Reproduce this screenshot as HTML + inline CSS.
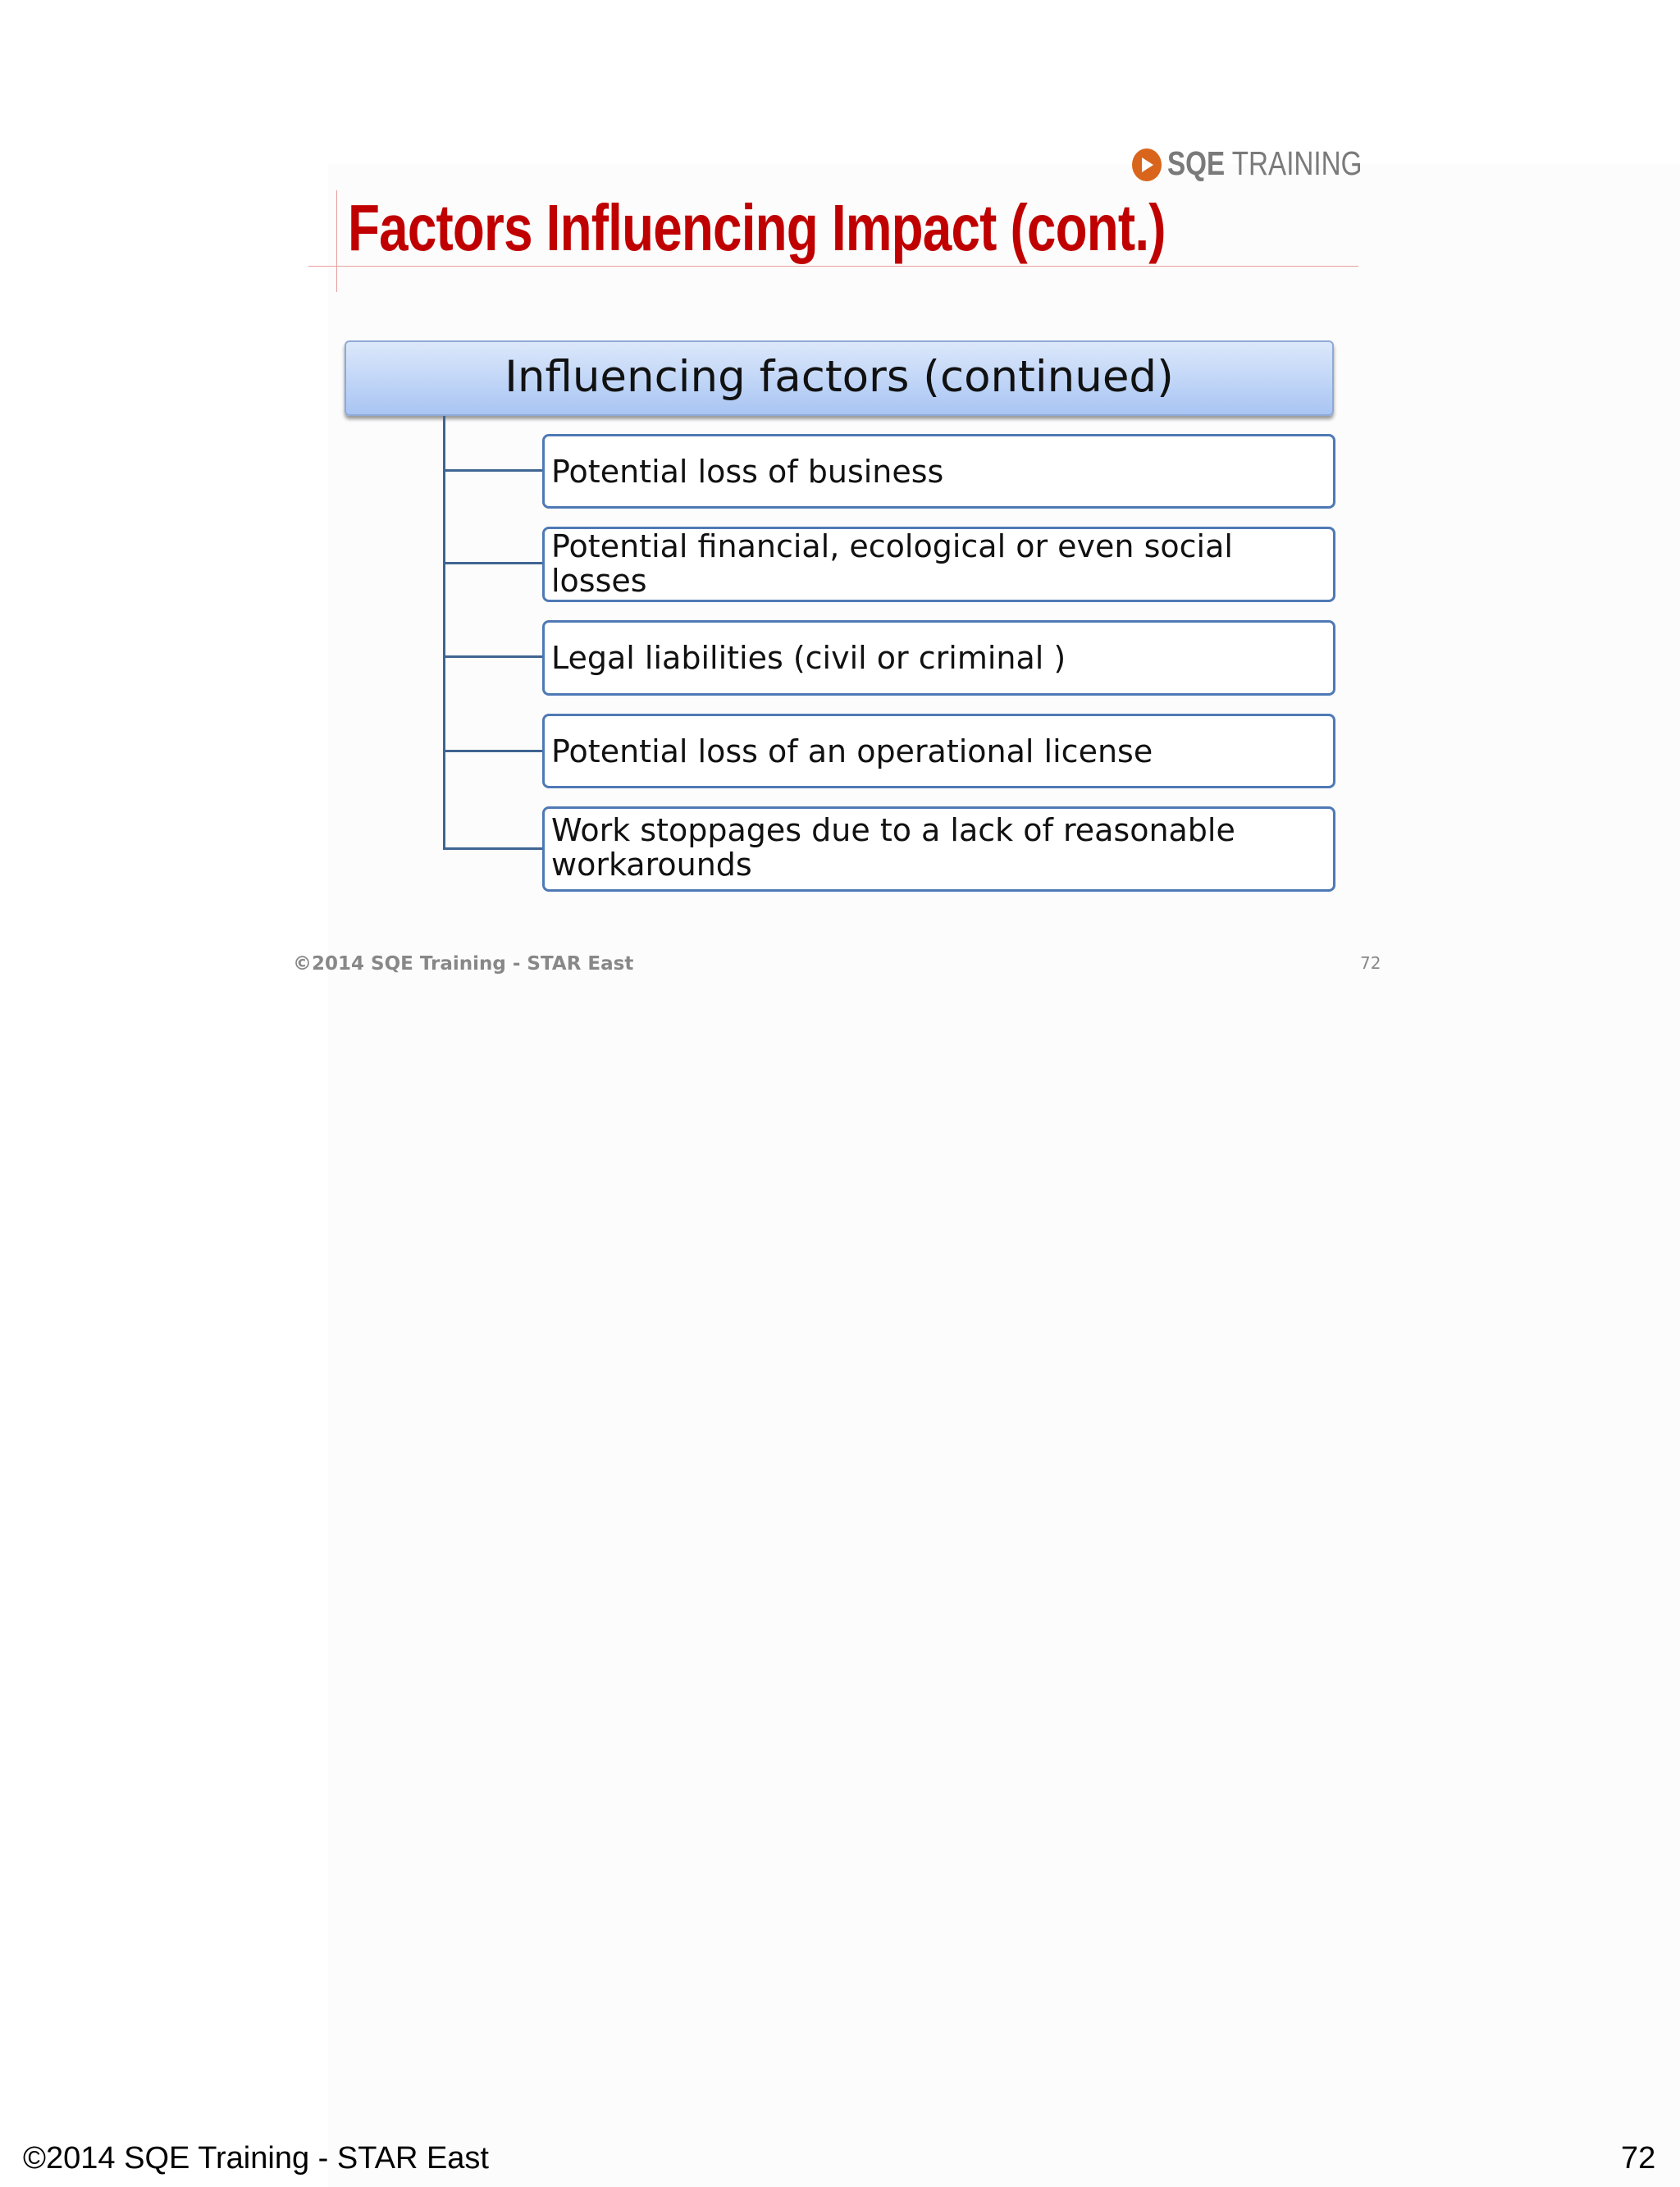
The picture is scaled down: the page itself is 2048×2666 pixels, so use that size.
<!DOCTYPE html>
<html><head><meta charset="utf-8"><style>
body{margin:0;width:2048px;height:2666px;background:#fff;position:relative;overflow:hidden;font-family:"DejaVu Sans","Liberation Sans",sans-serif}
.a{position:absolute;white-space:nowrap}
.box{position:absolute;left:661px;width:967px;border:3px solid #4f79b5;border-radius:8px;background:#fff;box-sizing:border-box}
.box span{position:absolute;left:8px;font-size:38px;line-height:42px;color:#111}
.h{position:absolute;left:541px;width:120px;height:3px;background:#3f6592}
</style></head><body>
<div class="a" style="left:400px;top:200px;width:1648px;height:2466px;background:#fcfcfc"></div>
<div class="a" style="left:1380px;top:181px;width:36px;height:40px;border-radius:50%;background:#d9651c"></div>
<div class="a" style="left:1392px;top:192px;width:0;height:0;border-top:9px solid transparent;border-bottom:9px solid transparent;border-left:14px solid #fff"></div>
<div class="a" style="left:1423px;top:176px;font-family:'Liberation Sans',sans-serif;font-size:41px;color:#7a7a7a;transform:scaleX(0.81);transform-origin:left top"><b>SQE</b> TRAINING</div>
<div class="a" style="left:410px;top:232px;width:1px;height:124px;background:#e8a0a0"></div>
<div class="a" style="left:376px;top:324px;width:1280px;height:1px;background:#e8a0a0"></div>
<div class="a" style="left:424px;top:232px;font-family:'Liberation Sans',sans-serif;font-weight:bold;font-size:80px;color:#c00000;transform:scaleX(0.797);transform-origin:left top;letter-spacing:-1px">Factors Influencing Impact (cont.)</div>
<div class="a" style="left:420px;top:415px;width:1206px;height:92px;border:2px solid #8fa9d6;border-radius:6px;background:linear-gradient(#dce8fb,#a9c5f3);box-shadow:0 4px 4px #999;box-sizing:border-box;text-align:center;line-height:86px;font-size:53px;color:#111">Influencing factors (continued)</div>
<div class="a" style="left:540px;top:507px;width:3px;height:529px;background:#3f6592"></div>
<div class="h" style="top:572px"></div><div class="h" style="top:685px"></div><div class="h" style="top:799px"></div><div class="h" style="top:914px"></div><div class="h" style="top:1033px"></div>
<div class="box" style="top:529px;height:91px"><span style="top:22px">Potential loss of business</span></div>
<div class="box" style="top:642px;height:92px"><span style="top:0px">Potential financial, ecological or even social<br>losses</span></div>
<div class="box" style="top:756px;height:92px"><span style="top:22px">Legal liabilities (civil or criminal )</span></div>
<div class="box" style="top:870px;height:91px"><span style="top:22px">Potential loss of an operational license</span></div>
<div class="box" style="top:983px;height:104px"><span style="top:5px">Work stoppages due to a lack of reasonable<br>workarounds</span></div>
<div class="a" style="left:357px;top:1162px;font-size:23px;font-weight:bold;color:#888">©2014 SQE Training - STAR East</div>
<div class="a" style="left:1658px;top:1162px;font-size:20px;color:#888">72</div>
<div class="a" style="left:28px;top:2610px;font-family:'Liberation Sans',sans-serif;font-size:38px;color:#000">©2014 SQE Training - STAR East</div>
<div class="a" style="left:1976px;top:2610px;font-family:'Liberation Sans',sans-serif;font-size:38px;color:#000">72</div>
</body></html>
